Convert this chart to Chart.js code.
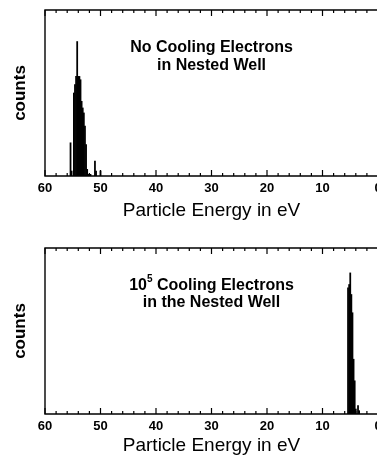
<!DOCTYPE html>
<html>
<head>
<meta charset="utf-8">
<script src="https://cdn.jsdelivr.net/npm/chart.js@4"></script>
<style>
  html, body { margin: 0; padding: 0; background: #fff; overflow: hidden; width: 377px; height: 459px; }
  .panel { position: absolute; left: 0; }
  #top { top: 0; }
  #bot { top: 238px; }
</style>
</head>
<body>
<div class="panel" id="top"><canvas id="c1" width="400" height="224"></canvas></div>
<div class="panel" id="bot"><canvas id="c2" width="400" height="221"></canvas></div>
<script>
// histogram bins (eV) and relative counts
const topEnergy = [55.4, 55.2, 54.8, 54.6, 54.4, 54.2, 54.0, 53.8, 53.6, 53.4, 53.2, 53.0, 52.8, 52.6, 52.4, 52.2, 51.8, 51.0, 50.8, 50.0];
const topCounts = [20, 3, 50, 55, 60, 81, 60, 60, 58, 45, 41, 38, 30, 19, 4, 1, 1, 9, 3, 3];

const botEnergy = [5.4, 5.2, 5.0, 4.8, 4.6, 4.4, 4.2, 4.0, 3.6, 3.4];
const botCounts = [76, 78, 85, 72, 61, 33, 20, 3, 5, 2];

const tickLabels = [60, 50, 40, 30, 20, 10, 0];

const topNote = [
  { x: 30, y: 77.5, parts: [{ t: "No Cooling Electrons" }] },
  { x: 30, y: 66.5, parts: [{ t: "in Nested Well" }] }
];
const botNote = [
  { x: 30, y: 77.5, parts: [{ t: "10" }, { t: "5", sup: true }, { t: " Cooling Electrons" }] },
  { x: 30, y: 67, parts: [{ t: "in the Nested Well" }] }
];

const FONT = "'Liberation Sans', Arial, Helvetica, sans-serif";

// frame + inward ticks + notes
const framePlugin = {
  id: "frame",
  afterDraw(chart, args, opts) {
    const { ctx, chartArea: a } = chart;
    const xs = chart.scales.x, ys = chart.scales.y;
    ctx.save();
    ctx.strokeStyle = "#000";
    ctx.lineWidth = 1.4;
    ctx.beginPath();
    ctx.moveTo(a.right + 5, a.top);
    ctx.lineTo(a.left, a.top);
    ctx.lineTo(a.left, a.bottom);
    ctx.lineTo(a.right + 5, a.bottom);
    ctx.stroke();
    ctx.lineWidth = 1.2;
    ctx.beginPath();
    for (let v = 0; v <= 60; v += 2) {
      const px = xs.getPixelForValue(v);
      const len = v % 10 === 0 ? 6 : 3;
      ctx.moveTo(px, a.top); ctx.lineTo(px, a.top + len);
      ctx.moveTo(px, a.bottom); ctx.lineTo(px, a.bottom - len);
    }
    ctx.stroke();

    ctx.fillStyle = "#000";
    ctx.textBaseline = "middle";
    (opts.notes || []).forEach((n) => {
      const big = "bold 16px " + FONT, small = "bold 10px " + FONT;
      let w = 0;
      n.parts.forEach((p) => { ctx.font = p.sup ? small : big; w += ctx.measureText(p.t).width; });
      let x = xs.getPixelForValue(n.x) - w / 2;
      const y = ys.getPixelForValue(n.y);
      n.parts.forEach((p) => {
        ctx.font = p.sup ? small : big;
        ctx.textAlign = "left";
        ctx.fillText(p.t, x, p.sup ? y - 6 : y);
        x += ctx.measureText(p.t).width;
      });
    });
    ctx.restore();
  }
};

function makeChart(id, energy, counts, notes, axisH) {
  return new Chart(document.getElementById(id), {
    type: "bar",
    data: {
      datasets: [{
        data: energy.map((e, i) => ({ x: e, y: counts[i] })),
        backgroundColor: "#000",
        borderWidth: 0,
        barPercentage: 1,
        categoryPercentage: 1
      }]
    },
    options: {
      responsive: false,
      animation: false,
      layout: { padding: { top: 10, right: 22, left: 0, bottom: 0 } },
      plugins: {
        legend: { display: false },
        tooltip: { enabled: false },
        frame: { notes: notes }
      },
      scales: {
        x: {
          type: "linear",
          reverse: true,
          offset: false,
          min: 0,
          max: 60,
          grid: { display: false, drawTicks: false, offset: false },
          border: { display: false },
          afterBuildTicks: (s) => { s.ticks = tickLabels.map((v) => ({ value: v })); },
          ticks: {
            color: "#000",
            padding: 5,
            maxRotation: 0,
            font: { family: FONT, size: 13, weight: "bold" }
          },
          title: {
            display: true,
            text: "Particle Energy in eV",
            color: "#000",
            padding: { top: 1, bottom: 2 },
            font: { family: FONT, size: 19 }
          },
          afterFit: (s) => { s.height = axisH; }
        },
        y: {
          min: 0,
          max: 100,
          grid: { display: false, drawTicks: false },
          border: { display: false },
          ticks: { display: false },
          title: {
            display: true,
            text: "counts",
            color: "#000",
            padding: { top: 10, bottom: 0 },
            font: { family: FONT, size: 17, weight: "bold" }
          },
          afterFit: (s) => { s.width = 45; }
        }
      }
    },
    plugins: [framePlugin]
  });
}

makeChart("c1", topEnergy, topCounts, topNote, 48);
makeChart("c2", botEnergy, botCounts, botNote, 45);
</script>
</body>
</html>
